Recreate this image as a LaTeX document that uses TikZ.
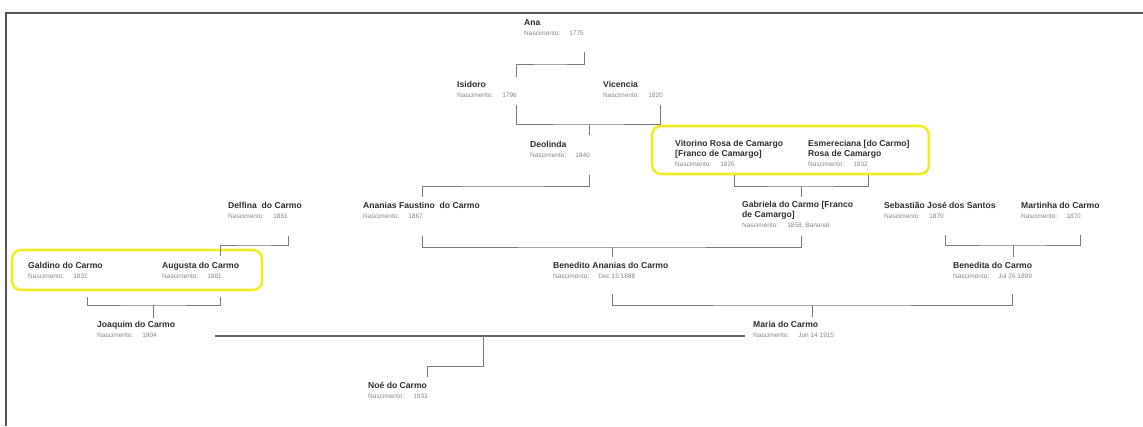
\documentclass[tikz,border=0pt]{standalone}
\usepackage{fontspec}
\setmainfont{Liberation Sans}
\definecolor{namegray}{HTML}{2E2E2E}
\definecolor{detailgray}{HTML}{858585}
\definecolor{linegray}{HTML}{7A7A7A}
\definecolor{framegray}{HTML}{555555}
\definecolor{hiyellow}{RGB}{242,236,40}
\newcommand\birthline[1]{{\mdseries\fontsize{6.5}{9.7}\selectfont\color{detailgray}Nascimento:\hspace{9pt}#1}}
\begin{document}
\begin{tikzpicture}[x=1pt,y=-1pt,
  % each person is placed by the baseline of its last (birth) line
  person/.style={anchor=base west, align=left, inner sep=0pt,
    font=\fontsize{8.6}{9.7}\selectfont\bfseries, text=namegray},
  link/.style={draw=linegray, line width=0.8pt},
  marriage/.style={draw=framegray!90, line width=1.6pt},
  couplebox/.style={draw=hiyellow, line width=2.6pt, rounded corners=9pt},
  frameline/.style={draw=framegray, line width=1.6pt}]
\useasboundingbox (0,0) rectangle (1143,426);

% outer frame (top and left edges)
\draw[frameline] (6,426) -- (6,13) -- (1143,13);

% highlighted couples
\draw[couplebox] (12,250) rectangle (262,290);
\draw[couplebox] (652,126) rectangle (929,174);

% people
\node[person] (ana) at (524,35.5) {Ana\\\birthline{1775}};
\node[person] (isidoro) at (457,97.5) {Isidoro\\\birthline{1796}};
\node[person] (vicencia) at (603,97.5) {Vicencia\\\birthline{1820}};
\node[person] (deolinda) at (530,157.5) {Deolinda\\\birthline{1840}};
\node[person] (vitorino) at (675,166) {Vitorino Rosa de Camargo\\{}[Franco de Camargo]\\\birthline{1826}};
\node[person] (esmereciana) at (808,166) {Esmereciana [do Carmo]\\Rosa de Camargo\\\birthline{1832}};
\node[person] (delfina) at (228,218.5) {Delfina~ do Carmo\\\birthline{1861}};
\node[person] (ananias) at (363,218.5) {Ananias Faustino~ do Carmo\\\birthline{1867}};
\node[person] (gabriela) at (742,227) {Gabriela do Carmo [Franco\\de Camargo]\\\birthline{1858, Bananal}};
\node[person] (sebastiao) at (884,218.5) {Sebastião José dos Santos\\\birthline{1870}};
\node[person] (martinha) at (1021,218.5) {Martinha do Carmo\\\birthline{1870}};
\node[person] (galdino) at (28,278) {Galdino do Carmo\\\birthline{1831}};
\node[person] (augusta) at (162,278) {Augusta do Carmo\\\birthline{1881}};
\node[person] (benedito) at (553,278) {Benedito Ananias do Carmo\\\birthline{Dec 15 1888}};
\node[person] (benedita) at (953,278) {Benedita do Carmo\\\birthline{Jul 26 1899}};
\node[person] (joaquim) at (97,337.5) {Joaquim do Carmo\\\birthline{1904}};
\node[person] (maria) at (753,337.5) {Maria do Carmo\\\birthline{Jun 14 1915}};
\node[person] (noe) at (368,398.5) {Noé do Carmo\\\birthline{1933}};

% attachment points of the connectors
\coordinate (ana-d) at (584,52);
\coordinate (j0) at (550,64);
\coordinate (isidoro-u) at (516,77);
\coordinate (isidoro-d) at (516,105);
\coordinate (vicencia-d) at (660,105);
\coordinate (j1) at (589,124);
\coordinate (deolinda-u) at (589,135);
\coordinate (deolinda-d) at (589,175);
\coordinate (j2) at (500,186);
\coordinate (ananias-u) at (422,197);
\coordinate (vitorino-d) at (734,175);
\coordinate (esmereciana-d) at (868,175);
\coordinate (j3) at (801,186);
\coordinate (gabriela-u) at (801,197);
\coordinate (ananias-d) at (422,236);
\coordinate (gabriela-d) at (801,236);
\coordinate (j4) at (612,247);
\coordinate (benedito-u) at (612,257);
\coordinate (delfina-d) at (288,236);
\coordinate (j5) at (254,245);
\coordinate (augusta-u) at (220,256);
\coordinate (sebastiao-d) at (945,235);
\coordinate (martinha-d) at (1080,235);
\coordinate (j6) at (1013,245);
\coordinate (benedita-u) at (1013,257);
\coordinate (galdino-d) at (87,297);
\coordinate (augusta-d) at (220,297);
\coordinate (j7) at (153,305);
\coordinate (joaquim-u) at (153,318);
\coordinate (benedito-d) at (612,294);
\coordinate (benedita-d) at (1012,294);
\coordinate (j8) at (812,305);
\coordinate (maria-u) at (812,317);
\coordinate (joaquim-r) at (215,336);
\coordinate (maria-l) at (745,336);
\coordinate (j9) at (483,336);
\coordinate (noe-u) at (427,377);

% parent-child connectors
\draw[link] (ana-d) |- (j0) -| (isidoro-u);
\draw[link] (isidoro-d) |- (j1) -| (vicencia-d);
\draw[link] (j1) -- (deolinda-u);
\draw[link] (deolinda-d) |- (j2) -| (ananias-u);
\draw[link] (vitorino-d) |- (j3) -| (esmereciana-d);
\draw[link] (j3) -- (gabriela-u);
\draw[link] (ananias-d) |- (j4) -| (gabriela-d);
\draw[link] (j4) -- (benedito-u);
\draw[link] (delfina-d) |- (j5) -| (augusta-u);
\draw[link] (sebastiao-d) |- (j6) -| (martinha-d);
\draw[link] (j6) -- (benedita-u);
\draw[link] (galdino-d) |- (j7) -| (augusta-d);
\draw[link] (j7) -- (joaquim-u);
\draw[link] (benedito-d) |- (j8) -| (benedita-d);
\draw[link] (j8) -- (maria-u);
\draw[marriage] (joaquim-r) -- (maria-l);
\draw[link] (j9) -- ++(0,30) -| (noe-u);
\end{tikzpicture}
\end{document}
